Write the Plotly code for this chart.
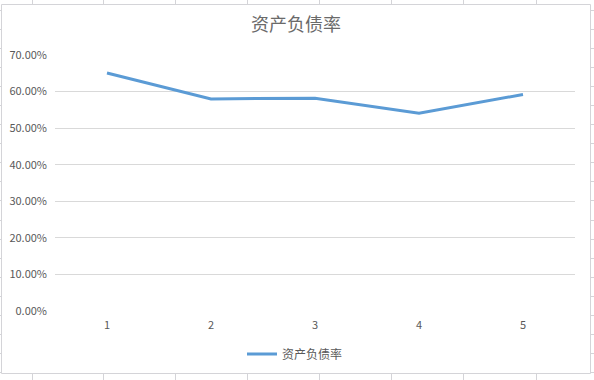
import plotly.graph_objects as go

categories = ["1", "2", "3", "4", "5"]
debt_ratio = [0.651, 0.580, 0.582, 0.541, 0.592]
series_name = "资产负债率"
title_text = "资产负债率"
y_ticks = [0, 0.1, 0.2, 0.3, 0.4, 0.5, 0.6, 0.7]

W, H = 594, 380
L, R, T, B = 55, 575, 55, 311  # plot area in pixels

def px(x):
    return (x - L) / (R - L)

def py(y):
    return (B - y) / (B - T)

fig = go.Figure()
fig.add_trace(go.Scatter(
    x=categories, y=debt_ratio, mode="lines", name=series_name,
    line=dict(color="#5B9BD5", width=3),
))

grid_c = "#d4d4d8"
shapes = []
# chart area border
shapes.append(dict(type="rect", xref="paper", yref="paper",
                   x0=px(1.5), x1=px(590.5), y0=py(373.5), y1=py(4.5),
                   line=dict(color=grid_c, width=1), layer="below"))
# spreadsheet cell lines outside the chart
for cx in [32, 103, 175, 247, 319, 391, 463, 536]:
    shapes.append(dict(type="line", xref="paper", yref="paper",
                       x0=px(cx + 0.5), x1=px(cx + 0.5), y0=py(0), y1=py(4),
                       line=dict(color=grid_c, width=1)))
    shapes.append(dict(type="line", xref="paper", yref="paper",
                       x0=px(cx + 0.5), x1=px(cx + 0.5), y0=py(374), y1=py(380),
                       line=dict(color=grid_c, width=1)))
k = 0
while 10 + 19.05 * k < 378:
    yy = round(10 + 19.05 * k) + 0.5
    shapes.append(dict(type="line", xref="paper", yref="paper",
                       x0=px(591), x1=px(594), y0=py(yy), y1=py(yy),
                       line=dict(color=grid_c, width=1)))
    shapes.append(dict(type="line", xref="paper", yref="paper",
                       x0=px(0), x1=px(1), y0=py(yy), y1=py(yy),
                       line=dict(color=grid_c, width=1)))
    k += 1

font_family = "Noto Sans CJK SC, Noto Sans, sans-serif"

fig.update_layout(
    width=W, height=H,
    margin=dict(l=L, r=W - R, t=T, b=H - B, autoexpand=False),
    paper_bgcolor="white", plot_bgcolor="white",
    font=dict(family=font_family, size=11, color="#595959"),
    title=dict(text=title_text, xref="container", x=296 / W, xanchor="center",
               yref="container", y=1 - 25 / H, yanchor="middle",
               font=dict(size=18, color="#6a6a6a", family=font_family)),
    xaxis=dict(type="category", range=[-0.5, 4.5], showgrid=False,
               zeroline=False, showline=False, ticks="", automargin=False,
               tickfont=dict(size=11, color="#595959"),
               ticklabelstandoff=6),
    yaxis=dict(range=[0, 0.7], tickvals=y_ticks, tickformat=".2%",
               showgrid=True, gridcolor="#d9d9d9", gridwidth=1,
               zeroline=False, showline=False, ticks="", automargin=False,
               tickfont=dict(size=11, color="#595959"),
               ticklabelstandoff=7),
    showlegend=True,
    legend=dict(orientation="h", x=px(295), xanchor="center",
                y=py(354), yanchor="middle",
                font=dict(size=12, color="#595959"),
                itemwidth=30),
    shapes=shapes,
)

fig.write_html("out.html")
